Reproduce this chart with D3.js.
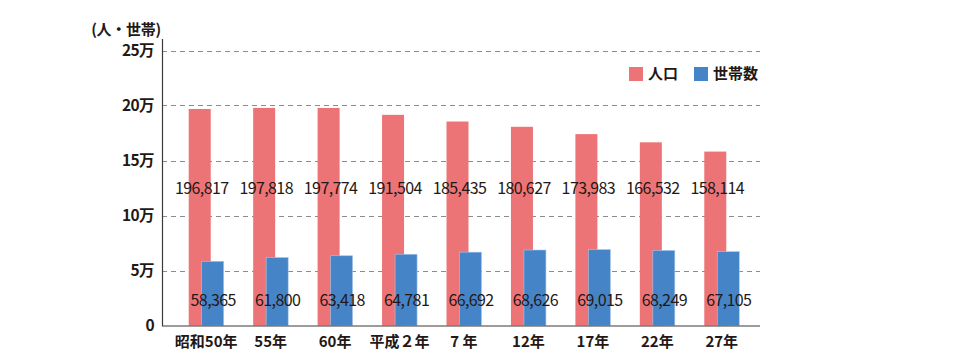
<!DOCTYPE html>
<html><head><meta charset="utf-8">
<script src="https://cdn.jsdelivr.net/npm/d3@7/dist/d3.min.js"></script>
<style>
html,body{margin:0;padding:0;background:#fff;}
text{font-family:"Noto Sans CJK JP","Noto Sans",sans-serif;fill:#231815;}
</style></head>
<body><svg id="c" width="960" height="360"></svg>
<script>
const categories = ["昭和50年","55年","60年","平成２年","7 年","12年","17年","22年","27年"];
const population = [196817,197818,197774,191504,185435,180627,173983,166532,158114];
const households = [58365,61800,63418,64781,66692,68626,69015,68249,67105];
const yTickValues = [0,50000,100000,150000,200000,250000];
const yTickLabels = ["0","5万","10万","15万","20万","25万"];
const seriesNames = ["人口","世帯数"];
const colors = ["#ED7476","#4684C8"];

const svg = d3.select("#c");
const axisLeftX = 162, axisRightX = 760;
const y = d3.scaleLinear().domain([0,250000]).range([325.5,50.5]);
const x = d3.scaleBand().domain(categories).range([174,754]).padding(0);
const barW = 22;

// gridlines
svg.append("g").selectAll("line").data(yTickValues.filter(v=>v>0)).join("line")
  .attr("x1",axisLeftX).attr("x2",axisRightX)
  .attr("y1",d=>Math.round(y(d))+0.5).attr("y2",d=>Math.round(y(d))+0.5)
  .attr("stroke","#8c8c8c").attr("stroke-width",1).attr("stroke-dasharray","5,4");

// y tick labels
svg.append("g").selectAll("text").data(yTickValues).join("text")
  .attr("x",154).attr("y",d=>y(d)).attr("dy","0.36em")
  .attr("text-anchor","end").attr("font-size",15.5).attr("font-weight","bold")
  .attr("letter-spacing","-0.6")
  .text((d,i)=>yTickLabels[i]);

svg.append("text").attr("x",126).attr("y",30).attr("dy","0.36em")
  .attr("text-anchor","middle").attr("font-size",15).attr("font-weight","bold")
  .attr("letter-spacing","-0.3")
  .text("(人・世帯)");

const cx = d => x(d) + x.bandwidth()/2;

// population bars
svg.append("g").selectAll("rect").data(categories).join("rect")
  .attr("x",d=>cx(d)-17.5).attr("width",barW)
  .attr("y",(d,i)=>y(population[i])).attr("height",(d,i)=>y(0)-y(population[i]))
  .attr("fill",colors[0]);
// household bars
svg.append("g").selectAll("rect").data(categories).join("rect")
  .attr("x",d=>cx(d)-4.5).attr("width",barW)
  .attr("y",(d,i)=>y(households[i])).attr("height",(d,i)=>y(0)-y(households[i]))
  .attr("fill",colors[1]).attr("stroke","#a9c6e8").attr("stroke-width",0.6);

// axes lines
svg.append("line").attr("x1",axisLeftX+0.5).attr("x2",axisLeftX+0.5).attr("y1",39).attr("y2",326)
  .attr("stroke","#3e3a39").attr("stroke-width",1.2);
svg.append("line").attr("x1",axisLeftX).attr("x2",axisRightX).attr("y1",326).attr("y2",326)
  .attr("stroke","#3e3a39").attr("stroke-width",1.2);

// value labels
const fmt = d3.format(",");
svg.append("g").selectAll("text").data(categories).join("text")
  .attr("x",d=>cx(d)-4.5).attr("y",188).attr("dy","0.36em")
  .attr("text-anchor","middle").attr("font-size",16).attr("letter-spacing","-0.6")
  .text((d,i)=>fmt(population[i]));
svg.append("g").selectAll("text").data(categories).join("text")
  .attr("x",d=>cx(d)+7).attr("y",300).attr("dy","0.36em")
  .attr("text-anchor","middle").attr("font-size",16).attr("letter-spacing","-0.6")
  .text((d,i)=>fmt(households[i]));

// x labels
svg.append("g").selectAll("text").data(categories).join("text")
  .attr("x",d=>cx(d)).attr("y",342).attr("dy","0.36em")
  .attr("text-anchor","middle").attr("font-size",15).attr("font-weight","bold")
  .text(d=>d);

// legend
const lg = svg.append("g");
const legendX = [629,694];
seriesNames.forEach((n,i)=>{
  lg.append("rect").attr("x",legendX[i]).attr("y",67).attr("width",14).attr("height",14).attr("fill",colors[i]);
  lg.append("text").attr("x",legendX[i]+19).attr("y",74).attr("dy","0.36em")
    .attr("font-size",15).attr("font-weight","bold").text(n);
});
</script></body></html>
